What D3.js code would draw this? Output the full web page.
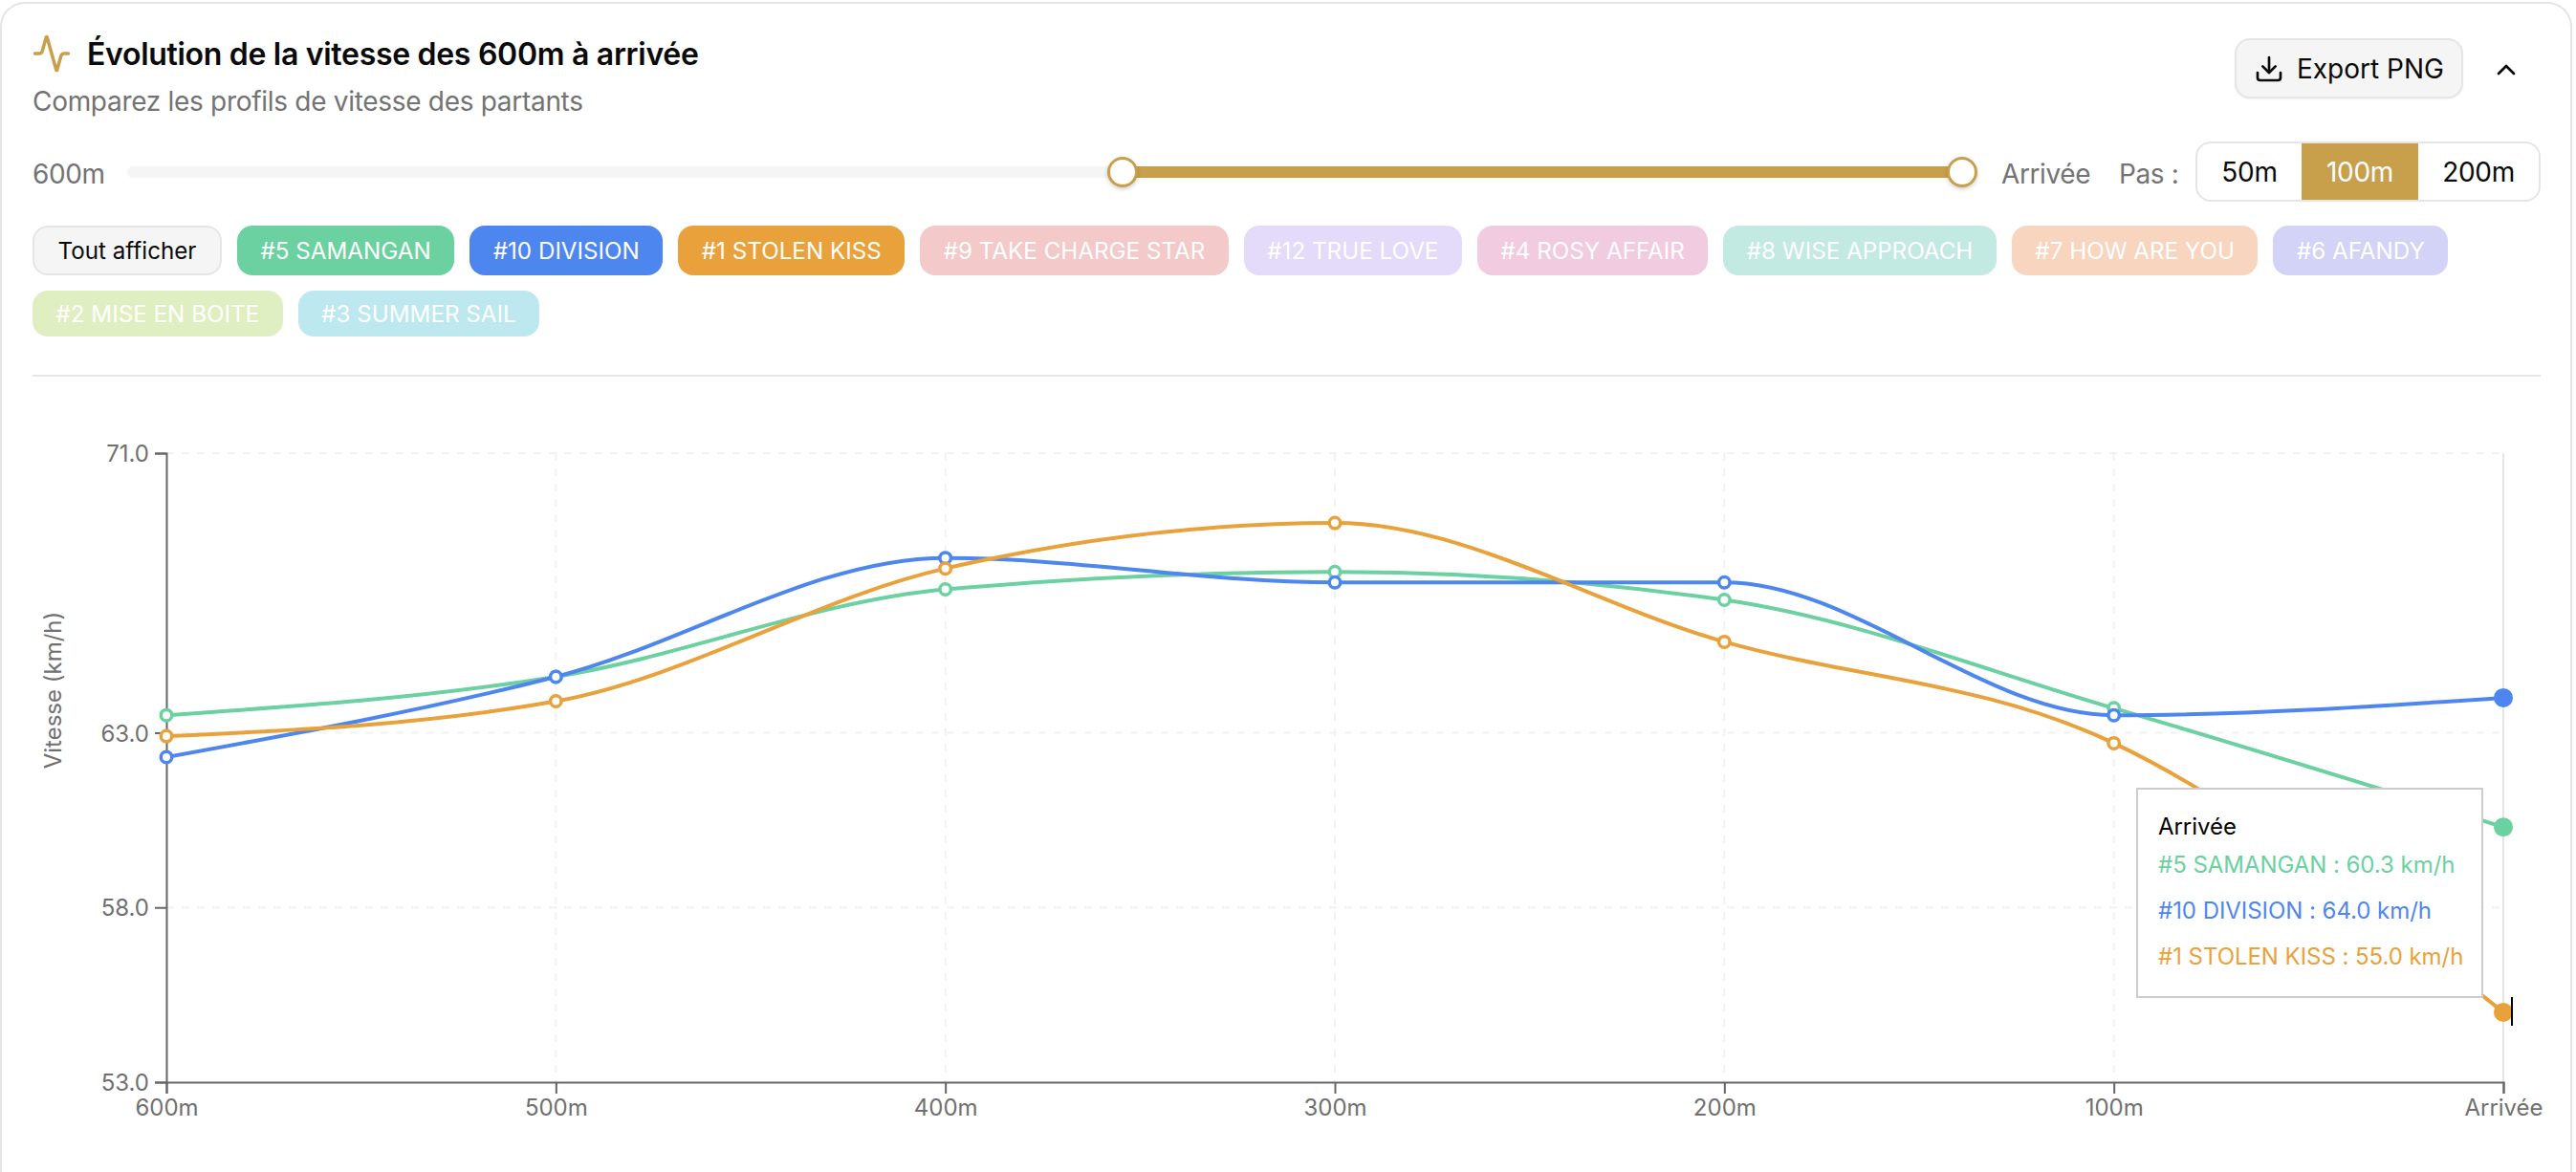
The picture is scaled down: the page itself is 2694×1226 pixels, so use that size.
<!DOCTYPE HTML>
<html>
<head>
<meta charset="utf-8">
<script src="https://d3js.org/d3.v7.min.js"></script>
<style>
html, body { margin: 0; padding: 0; background: #fff; overflow: hidden; }
body { width: 2694px; height: 1226px; position: relative; font-family: Inter, "Noto Sans", sans-serif; }
.abs { position: absolute; white-space: nowrap; }
#card { left: 0; top: 2px; width: 2686px; height: 1300px; border: 2px solid #e5e5e5; border-radius: 26px; }
#title { left: 91px; top: 37px; font-size: 32px; line-height: 40px; font-weight: 600; color: #0a0a0a; letter-spacing: -.3px; }
#subtitle { left: 34px; top: 88px; font-size: 28px; line-height: 36px; color: #737373; letter-spacing: -.3px; }
.lbl { font-size: 28px; line-height: 36px; top: 164px; color: #737373; letter-spacing: -.4px; }
#track { left: 133px; top: 174px; width: 1919px; height: 12px; background: #f5f5f5; border-radius: 6px; }
#range { left: 1174px; top: 174px; width: 878px; height: 12px; background: #c8a04c; }
.handle { top: 164px; width: 26px; height: 26px; margin-left: -16px; border: 3px solid #c8a04c; border-radius: 50%; background: #fff; box-shadow: 0 2px 4px rgba(0,0,0,.18); }
#pas { left: 2296px; top: 148px; height: 59px; border: 2px solid #e5e5e5; border-radius: 16px; display: flex; overflow: hidden; background: #fff; }
#pas div { font-size: 28px; line-height: 61px; text-align: center; color: #0a0a0a; letter-spacing: -.3px; }
#pas div.on { background: #c8a04c; color: #fff; }
#export { left: 2337px; top: 40px; width: 235px; height: 59px; border: 2px solid #e5e5e5; border-radius: 16px; background: #f5f5f5; box-shadow: 0 1px 2px rgba(0,0,0,.06); }
#export span { position: absolute; left: 63px; top: 0; font-size: 28px; line-height: 61px; color: #0a0a0a; }
#chips { left: 34px; top: 236px; width: 2630px; display: flex; flex-wrap: wrap; gap: 16px; white-space: normal; }
.chip { font-size: 24.2px; height: 48px; line-height: 50px; padding: 0 24.5px; border-radius: 16px; color: #fff; white-space: nowrap; }
.chip.row1 { height: 52px; line-height: 54px; }
#all { background: #f5f5f5; color: #0a0a0a; border: 2px solid #e5e5e5; }
#divider { left: 34px; top: 392px; width: 2623px; height: 2px; background: #e5e5e5; }
#chart { position: absolute; left: 0; top: 0; }
#tooltip { left: 2234px; top: 824px; width: 359px; height: 216px; border: 2px solid #ccc; background: #fff; }
#tooltip div { position: absolute; left: 21px; font-size: 24px; line-height: 30px; letter-spacing: -.05px; }
</style>
</head>
<body>

<div class="abs" id="card"></div>
<svg class="abs" id="activity" style="left:33px;top:35px" width="42" height="42" viewBox="0 0 24 24" fill="none" stroke="#c8a04c" stroke-width="2" stroke-linecap="round" stroke-linejoin="round">
  <path d="M22 12h-2.48a2 2 0 0 0-1.93 1.46l-2.35 8.36a.25.25 0 0 1-.48 0L9.24 2.18a.25.25 0 0 0-.48 0l-2.35 8.36A2 2 0 0 1 4.49 12H2"/>
</svg>
<div class="abs" id="title"></div>
<div class="abs" id="subtitle"></div>

<div class="abs" id="export">
  <svg class="abs" style="left:18px;top:14px" width="32" height="32" viewBox="0 0 24 24" fill="none" stroke="#0a0a0a" stroke-width="2" stroke-linecap="round" stroke-linejoin="round">
    <path d="M21 15v4a2 2 0 0 1-2 2H5a2 2 0 0 1-2-2v-4"/><path d="M7 10l5 5 5-5"/><path d="M12 15V3"/>
  </svg>
  <span>Export PNG</span>
</div>
<svg class="abs" style="left:2605px;top:57px" width="32" height="32" viewBox="0 0 24 24" fill="none" stroke="#0a0a0a" stroke-width="2" stroke-linecap="round" stroke-linejoin="round">
  <path d="M18 15l-6-6-6 6"/>
</svg>

<div class="abs lbl" style="left:34px">600m</div>
<div class="abs" id="track"></div>
<div class="abs" id="range"></div>
<div class="abs handle" style="left:1174px"></div>
<div class="abs handle" style="left:2052px"></div>
<div class="abs lbl" style="left:2093px">Arrivée</div>
<div class="abs lbl" style="left:2216px">Pas :</div>
<div class="abs" id="pas"></div>

<div class="abs" id="chips"></div>
<div class="abs" id="divider"></div>

<svg id="chart" width="2694" height="1226"></svg>
<div class="abs" id="tooltip"></div>

<script>
// distances along the x axis
const distances = ["600m", "500m", "400m", "300m", "200m", "100m", "Arrivée"];
const yTicks = [53, 58, 63, 71];

// speeds in km/h
const samangan = [63.5, 64.6, 67.1, 67.6, 66.8, 63.7, 60.3];
const division = [62.3, 64.6, 68.0, 67.3, 67.3, 63.5, 64.0];
const stolenKiss = [62.9, 63.9, 67.7, 69.0, 65.6, 62.7, 55.0];

const seriesNames = ["#5 SAMANGAN", "#10 DIVISION", "#1 STOLEN KISS"];
const seriesValues = [samangan, division, stolenKiss];
const seriesColors = ["#6bd1a0", "#4e86ef", "#e9a23b"];

const fadedNames = ["#9 TAKE CHARGE STAR", "#12 TRUE LOVE", "#4 ROSY AFFAIR", "#8 WISE APPROACH",
                    "#7 HOW ARE YOU", "#6 AFANDY", "#2 MISE EN BOITE", "#3 SUMMER SAIL"];
const fadedColors = ["#f3c9c9", "#e3dbf9", "#f1cbe0", "#c3e9e3", "#f7d5bf", "#d2d3f6", "#dfefc1", "#bde8ef"];

const stepLabels = ["50m", "100m", "200m"];
const stepWidths = [109, 122, 126];

d3.select("#title").text("Évolution de la vitesse des 600m à arrivée");
d3.select("#subtitle").text("Comparez les profils de vitesse des partants");

d3.select("#pas").selectAll("div").data(stepLabels).enter().append("div")
  .attr("class", d => d == "100m" ? "on" : null)
  .style("width", (d, i) => stepWidths[i] + "px")
  .text(d => d);

// filter chips, they wrap by themselves
const chips = d3.select("#chips");
chips.append("div").attr("class", "chip").attr("id", "all").text("Tout afficher");
seriesNames.forEach((n, i) => {
  chips.append("div").attr("class", "chip row1").style("background", seriesColors[i]).text(n);
});
fadedNames.forEach((n, i) => {
  chips.append("div").attr("class", "chip" + (i < 6 ? " row1" : "")).style("background", fadedColors[i]).text(n);
});

const svg = d3.select("#chart");
const plotLeft = 174, plotRight = 2618, plotTop = 474, plotBottom = 1132;

const xs = d3.scalePoint().domain(distances).range([plotLeft, plotRight]);
const ys = d3.scaleLinear().domain([53, 71]).range([plotBottom, plotTop]);

// dashed grid
svg.append("g").selectAll("line").data(yTicks.slice(1)).enter().append("line")
  .attr("x1", plotLeft).attr("x2", plotRight)
  .attr("y1", d => ys(d)).attr("y2", d => ys(d))
  .attr("stroke", "#f2f2f2").attr("stroke-width", 2).attr("stroke-dasharray", "8 8");
svg.append("g").selectAll("line").data(distances.slice(1)).enter().append("line")
  .attr("x1", d => xs(d)).attr("x2", d => xs(d))
  .attr("y1", plotTop).attr("y2", plotBottom)
  .attr("stroke", "#f2f2f2").attr("stroke-width", 2).attr("stroke-dasharray", "8 8");

// hover line on the last distance
svg.append("line")
  .attr("x1", xs("Arrivée")).attr("x2", xs("Arrivée"))
  .attr("y1", plotTop).attr("y2", plotBottom)
  .attr("stroke", "#e5e5e5").attr("stroke-width", 2);

const xAxis = d3.axisBottom(xs).tickSize(12).tickPadding(6);
const yAxis = d3.axisLeft(ys).tickValues(yTicks).tickFormat(d3.format(".1f")).tickSize(12).tickPadding(6);

const styleAxis = g => {
  g.selectAll("path,line").attr("stroke", "#666").attr("stroke-width", 2);
  g.selectAll("text").attr("fill", "#707070").style("font-size", "24px").style("font-family", "Inter, sans-serif");
};
svg.append("g").attr("transform", `translate(0,${plotBottom})`).call(xAxis).call(styleAxis);
svg.append("g").attr("transform", `translate(${plotLeft},0)`).call(yAxis).call(styleAxis)
  .selectAll("text").attr("dy", "0.36em");

svg.append("text")
  .attr("transform", "translate(64,722) rotate(-90)")
  .attr("text-anchor", "middle")
  .attr("fill", "#707070")
  .style("font-size", "24px")
  .text("Vitesse (km/h)");

const line = d3.line()
  .x((d, i) => xs(distances[i]))
  .y(d => ys(d))
  .curve(d3.curveMonotoneX);

seriesValues.forEach((vals, s) => {
  const g = svg.append("g");
  g.append("path")
    .attr("d", line(vals))
    .attr("fill", "none")
    .attr("stroke", seriesColors[s])
    .attr("stroke-width", 4);
  g.selectAll("circle").data(vals).enter().append("circle")
    .attr("cx", (d, i) => xs(distances[i]))
    .attr("cy", d => ys(d))
    .attr("r", (d, i) => i == distances.length - 1 ? 10 : 5.75)
    .attr("fill", (d, i) => i == distances.length - 1 ? seriesColors[s] : "#fff")
    .attr("stroke", seriesColors[s])
    .attr("stroke-width", (d, i) => i == distances.length - 1 ? 0 : 3.5);
});

// text cursor caught in the screenshot
svg.append("line")
  .attr("x1", 2627).attr("x2", 2627).attr("y1", 1043).attr("y2", 1073)
  .attr("stroke", "#000").attr("stroke-width", 2);

// tooltip
const tip = d3.select("#tooltip");
tip.append("div").style("top", "24px").style("color", "#000").text("Arrivée");
seriesNames.forEach((n, i) => {
  tip.append("div")
    .style("top", (64 + i * 48) + "px")
    .style("color", seriesColors[i])
    .text(n + " : " + seriesValues[i][distances.length - 1].toFixed(1) + " km/h");
});
</script>
</body>
</html>
